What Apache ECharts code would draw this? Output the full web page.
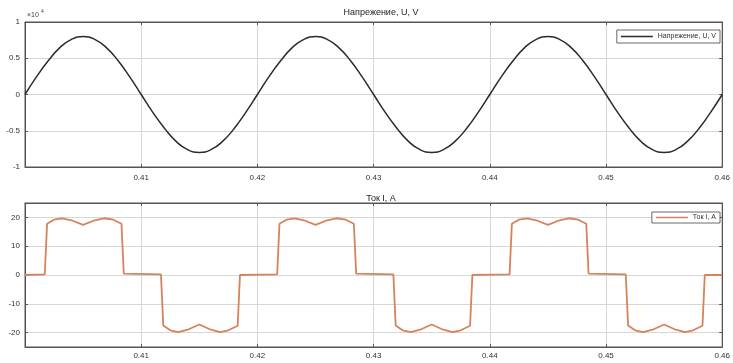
<!DOCTYPE html>
<html><head><meta charset="utf-8">
<script src="https://cdn.jsdelivr.net/npm/echarts@6/dist/echarts.min.js"></script>
<style>html,body{margin:0;padding:0;background:#fff}#c{width:733px;height:363px}</style>
</head><body><div id="c"></div>
<script>
// Voltage: time (s) and value (V), sampled every 1 ms
const timeU = [0.400,0.401,0.402,0.403,0.404,0.405,0.406,0.407,0.408,0.409,0.410,0.411,0.412,0.413,0.414,0.415,0.416,0.417,0.418,0.419,
0.420,0.421,0.422,0.423,0.424,0.425,0.426,0.427,0.428,0.429,0.430,0.431,0.432,0.433,0.434,0.435,0.436,0.437,0.438,0.439,
0.440,0.441,0.442,0.443,0.444,0.445,0.446,0.447,0.448,0.449,0.450,0.451,0.452,0.453,0.454,0.455,0.456,0.457,0.458,0.459,0.460];
const valU = [0,2470,4650,6470,7610,8000,7610,6470,4700,2470,0,-2470,-4650,-6470,-7610,-8000,-7610,-6470,-4700,-2470,
0,2470,4650,6470,7610,8000,7610,6470,4700,2470,0,-2470,-4650,-6470,-7610,-8000,-7610,-6470,-4700,-2470,
0,2470,4650,6470,7610,8000,7610,6470,4700,2470,0,-2470,-4650,-6470,-7610,-8000,-7610,-6470,-4700,-2470,0];
// Current: time (s) and value (A)
const timeI = [0.4000,0.4017,0.4019,0.4025,0.4032,0.4040,0.4050,0.4060,0.4068,0.4076,0.4083,0.4085,0.4117,0.4119,0.4125,0.4132,0.4140,0.4150,0.4160,0.4168,0.4175,0.4183,0.4185,
0.4217,0.4219,0.4225,0.4232,0.4240,0.4250,0.4260,0.4268,0.4276,0.4283,0.4285,0.4317,0.4319,0.4325,0.4332,0.4340,0.4350,0.4360,0.4368,0.4375,0.4383,0.4385,
0.4417,0.4419,0.4425,0.4432,0.4440,0.4450,0.4460,0.4468,0.4476,0.4483,0.4485,0.4517,0.4519,0.4525,0.4532,0.4540,0.4550,0.4560,0.4568,0.4575,0.4583,0.4585,0.4600];
const valI = [0,0.2,17.8,19.2,19.7,19.0,17.4,19.0,19.7,19.2,17.8,0.5,0.2,-17.5,-19.2,-19.8,-19.0,-17.2,-19.0,-19.8,-19.2,-17.6,0,
0.2,17.8,19.2,19.7,19.0,17.4,19.0,19.7,19.2,17.8,0.5,0.2,-17.5,-19.2,-19.8,-19.0,-17.2,-19.0,-19.8,-19.2,-17.6,0,
0.2,17.8,19.2,19.7,19.0,17.4,19.0,19.7,19.2,17.8,0.5,0.2,-17.5,-19.2,-19.8,-19.0,-17.2,-19.0,-19.8,-19.2,-17.6,0,0];
const xTicks = [0.40,0.41,0.42,0.43,0.44,0.45,0.46];
const uTicks = [-1,-0.5,0,0.5,1];
const iTicks = [-20,-10,0,10,20];
const titleU = 'Напрежение, U, V';
const titleI = 'Ток I, A';

const ff = '"Liberation Sans", Arial, sans-serif';
const axisCol = '#555';
const gridCol = '#d6d6d6';
const lbl = {color:'#333', fontSize:8, fontFamily:ff};

function xAx(gi, showLabel){
  return {type:'value', gridIndex:gi, min:0.40, max:0.46, interval:0.01,
    axisLine:{show:true, onZero:false, lineStyle:{color:axisCol}},
    axisTick:{show:true, inside:true, length:3, lineStyle:{color:axisCol}},
    splitLine:{show:true, lineStyle:{color:gridCol, width:1}},
    axisLabel:{show:showLabel, ...lbl, margin:gi===0?7:5,
      formatter:v=>Math.abs(v-0.40)<1e-6?'':v.toFixed(2)}};
}
function xTop(gi){
  return {type:'value', gridIndex:gi, position:'top', min:0.40, max:0.46, interval:0.01,
    axisLine:{show:true, onZero:false, lineStyle:{color:axisCol}},
    axisTick:{show:true, inside:true, length:3, lineStyle:{color:axisCol}},
    splitLine:{show:false}, axisLabel:{show:false}};
}
const pts = (xs, ys) => xs.map((x,i)=>[x, ys[i]]);

const chart = echarts.init(document.getElementById('c'), null, {renderer:'canvas'});
chart.setOption({
  animation:false,
  backgroundColor:'#fff',
  title:[
    {text:titleU, left:376, top:3, textAlign:'center', textStyle:{fontSize:9, fontWeight:'normal', color:'#222', fontFamily:ff}},
    {text:titleI, left:376, top:189, textAlign:'center', textStyle:{fontSize:9, fontWeight:'normal', color:'#222', fontFamily:ff}}
  ],
  grid:[
    {left:25, right:5, top:22, height:145, show:true, borderColor:axisCol, borderWidth:1},
    {left:25, right:5, top:203, height:144, show:true, borderColor:axisCol, borderWidth:1}
  ],
  xAxis:[xAx(0,true), xAx(1,true), xTop(0), xTop(1)],
  yAxis:[
    {type:'value', gridIndex:0, min:-10000, max:10000, interval:5000,
      axisLine:{show:true, onZero:false, lineStyle:{color:axisCol}},
      axisTick:{show:true, inside:true, length:3, lineStyle:{color:axisCol}},
      splitLine:{show:true, lineStyle:{color:gridCol}},
      axisLabel:{...lbl, margin:5, formatter:v=>{const t=v/10000; return String(uTicks.find(u=>Math.abs(u-t)<1e-9));}}},
    {type:'value', gridIndex:1, min:-25, max:25,
      axisLine:{show:true, onZero:false, lineStyle:{color:axisCol}},
      axisTick:{show:true, inside:true, length:3, customValues:iTicks, lineStyle:{color:axisCol}},
      splitLine:{show:true, lineStyle:{color:gridCol}},
      axisLabel:{...lbl, margin:5, customValues:iTicks}},
    {type:'value', gridIndex:0, position:'right', min:-10000, max:10000, interval:5000,
      axisLine:{show:true, onZero:false, lineStyle:{color:axisCol}},
      axisTick:{show:true, inside:true, length:3, lineStyle:{color:axisCol}},
      splitLine:{show:false}, axisLabel:{show:false}},
    {type:'value', gridIndex:1, position:'right', min:-25, max:25,
      axisLine:{show:true, onZero:false, lineStyle:{color:axisCol}},
      axisTick:{show:true, inside:true, length:3, customValues:iTicks, lineStyle:{color:axisCol}},
      splitLine:{show:false}, axisLabel:{show:false, customValues:iTicks}}
  ],
  legend:[
    {data:[titleU], right:13, top:30, orient:'vertical', icon:'rect', itemWidth:32, itemHeight:1.5, itemGap:4,
      padding:[3,4,3,4], borderColor:'#444', borderWidth:0.8, borderRadius:0, backgroundColor:'#fff',
      textStyle:{fontSize:7, color:'#333', fontFamily:ff}},
    {data:[titleI], right:13, top:212, orient:'vertical', icon:'rect', itemWidth:32, itemHeight:1.5, itemGap:4,
      padding:[2,4,2,4], borderColor:'#444', borderWidth:0.8, borderRadius:0, backgroundColor:'#fff',
      textStyle:{fontSize:7, color:'#333', fontFamily:ff}}
  ],
  series:[
    {name:titleU, type:'line', xAxisIndex:0, yAxisIndex:0, data:pts(timeU,valU), smooth:true, showSymbol:false,
      lineStyle:{color:'#2b2b2b', width:1.5}, itemStyle:{color:'#2b2b2b'}},
    {name:titleI, type:'line', xAxisIndex:1, yAxisIndex:1, data:pts(timeI,valI), showSymbol:false,
      lineStyle:{color:'#d4835c', width:1.8}, itemStyle:{color:'#d4835c'}}
  ],
  graphic:[
    {type:'text', left:27, top:12, style:{text:'×10', fontSize:7, fill:'#444', fontFamily:ff}},
    {type:'text', left:41, top:9, style:{text:'4', fontSize:5, fill:'#444', fontFamily:ff}}
  ]
});
</script>
</body></html>
